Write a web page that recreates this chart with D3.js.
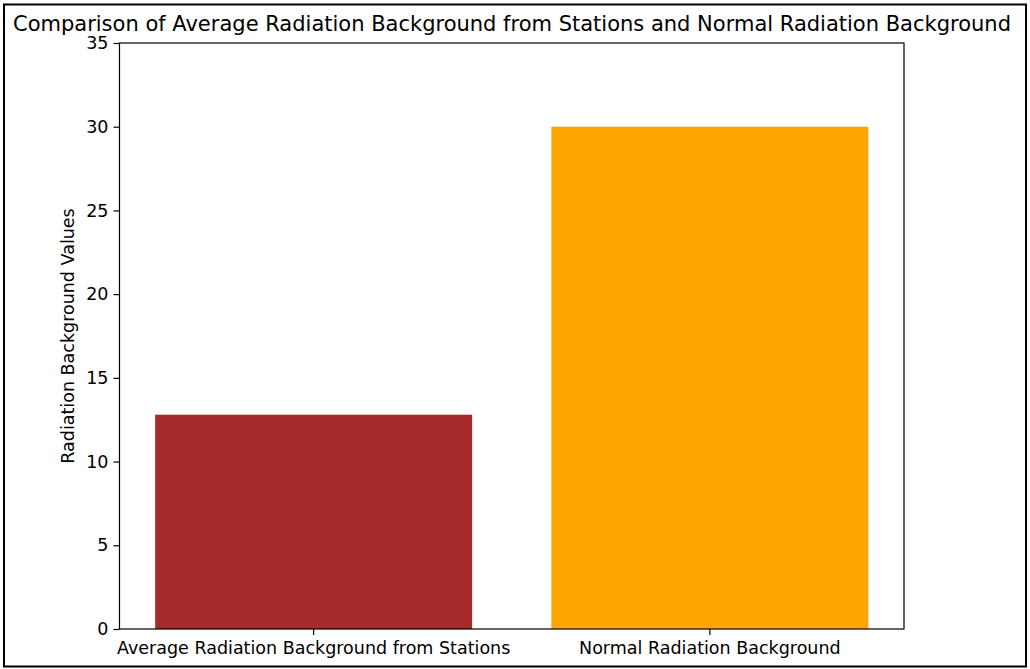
<!DOCTYPE html>
<html><head><meta charset="utf-8">
<script src="https://cdn.jsdelivr.net/npm/d3@7"></script>
<style>body{margin:0;background:#fff}svg{display:block}</style>
</head><body>
<script>
const categories = ["Average Radiation Background from Stations", "Normal Radiation Background"];
const values = [12.8, 30];
const colors = ["#A52A2A", "#FFA500"];
const yTicks = [0, 5, 10, 15, 20, 25, 30, 35];
const title = "Comparison of Average Radiation Background from Stations and Normal Radiation Background";
const yLabel = "Radiation Background Values";

const W = 1030, H = 669;
const m = {left: 119.5, right: 904, top: 43, bottom: 629};
const font = "DejaVu Sans, sans-serif";

const svg = d3.select("body").append("svg").attr("width", W).attr("height", H);
svg.append("rect").attr("x", 4).attr("y", 4.5).attr("width", 1022).attr("height", 662)
  .attr("fill", "#fff").attr("stroke", "#000").attr("stroke-width", 2);

const x = d3.scaleBand().domain(categories).range([m.left, m.right]).paddingInner(0.2).paddingOuter(0.09);
const y = d3.scaleLinear().domain([0, 35]).range([m.bottom, m.top]);

svg.append("g").selectAll("rect").data(categories).join("rect")
  .attr("x", d => x(d)).attr("width", x.bandwidth())
  .attr("y", (d, i) => y(values[i])).attr("height", (d, i) => y(0) - y(values[i]))
  .attr("fill", (d, i) => colors[i]);

const yAxis = svg.append("g").attr("transform", `translate(${m.left},0)`)
  .call(d3.axisLeft(y).tickValues(yTicks).tickSize(6).tickPadding(5).tickSizeOuter(0));
const xAxis = svg.append("g").attr("transform", `translate(0,${m.bottom})`)
  .call(d3.axisBottom(x).tickSize(6).tickPadding(7).tickSizeOuter(0));
[yAxis, xAxis].forEach(g => {
  g.selectAll("text").attr("font-family", font).attr("font-size", 17.5).attr("fill", "#000");
  g.selectAll("line").attr("stroke", "#000").attr("stroke-width", 1.2);
  g.select(".domain").remove();
});
// frame
svg.append("rect").attr("x", m.left).attr("y", m.top).attr("width", m.right - m.left).attr("height", m.bottom - m.top)
  .attr("fill", "none").attr("stroke", "#000").attr("stroke-width", 1.2);

svg.append("text").attr("x", 512).attr("y", 31).attr("text-anchor", "middle")
  .attr("font-family", font).attr("font-size", 21).attr("fill", "#000").text(title);
svg.append("text").attr("transform", `translate(74,${(m.top + m.bottom) / 2}) rotate(-90)`)
  .attr("text-anchor", "middle").attr("font-family", font).attr("font-size", 17.5).attr("fill", "#000").text(yLabel);
</script>
</body></html>
